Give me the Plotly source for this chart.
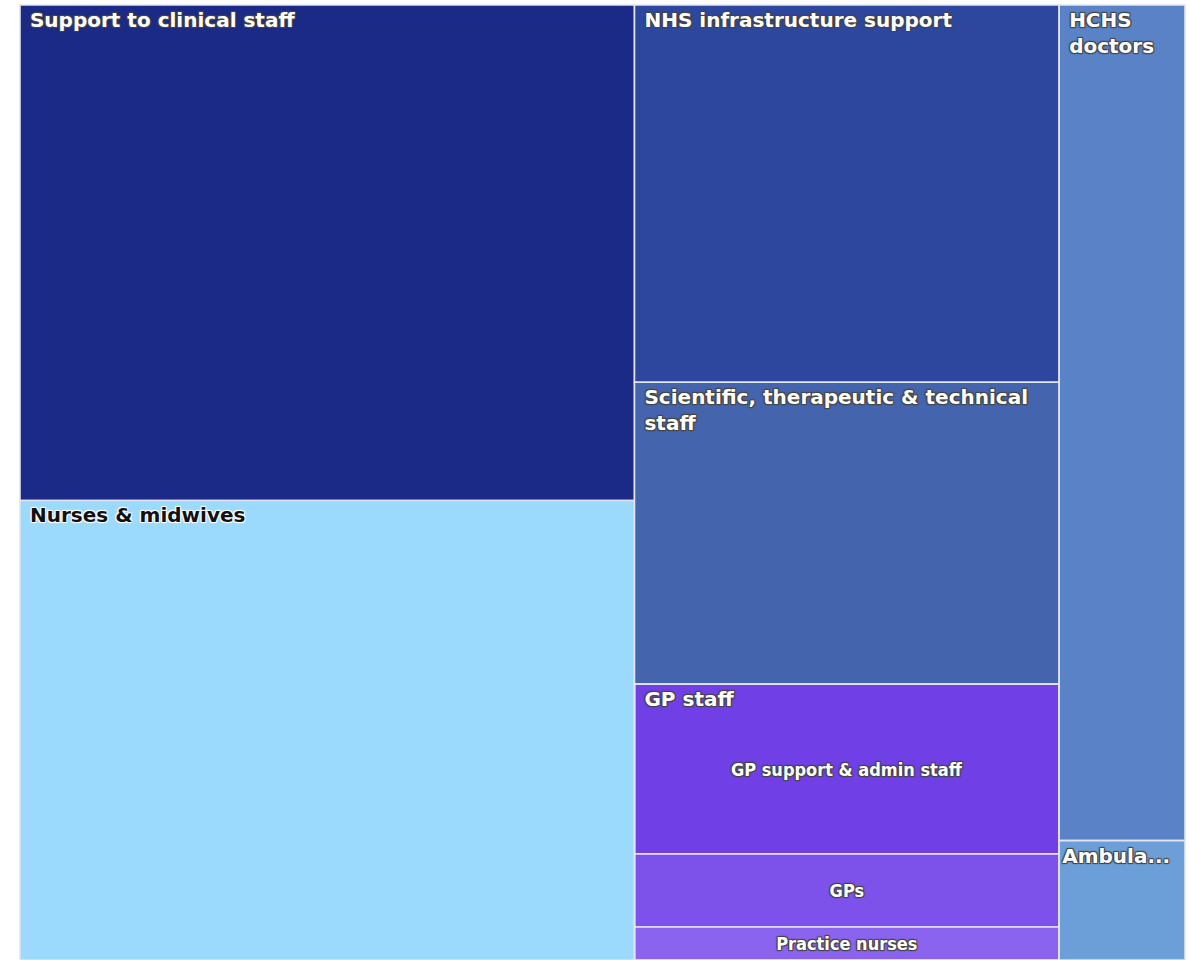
import plotly.graph_objects as go

# ---------------- data (thousands of staff) ----------------
col1_labels = ["Support to clinical staff", "Nurses & midwives"]
col1_text = ["Support to clinical staff", "Nurses & midwives"]
col1_values = [304, 282]

col2_labels = ["NHS infrastructure support", "Scientific, therapeutic & technical staff", "GP staff"]
col2_text = ["NHS infrastructure support", "Scientific, therapeutic & technical<br>staff", "GP staff"]

gp_labels = ["GP support & admin staff", "GPs", "Practice nurses"]
gp_values = [72, 31, 14]

col2_values = [160, 128, sum(gp_values)]

col3_labels = ["HCHS doctors", "Ambulance staff"]
col3_text = ["HCHS<br>doctors", "Ambula..."]
col3_values = [105, 15]

# ---------------- styles ----------------
col1_colors = ["#1b2987", "#9bdafd"]
col2_colors = ["#2e479e", "#4464ad", "rgba(0,0,0,0)"]
gp_colors = ["#703fe6", "#7d52ea", "#8a63ee"]
col3_colors = ["#5a82c6", "#6c9fd8"]

col1_fontcolors = ["#ffffff", "#111111"]
white = "#ffffff"
line_col = "#e4e4f0"
head_font = "DejaVu Sans"
child_font = "DejaVu Sans Condensed"
NBSP = "\u00a0"


def indent(s):
    return "<br>".join(NBSP + part for part in s.split("<br>"))


totals = [sum(col1_values), sum(col2_values), sum(col3_values)]
grand = sum(totals)
x_edges = [0.0]
for t in totals:
    x_edges.append(x_edges[-1] + t / grand)
x_edges[-1] = 1.0

gp_frac = sum(gp_values) / sum(col2_values)


def tm(labels, values, text, colors, fontcolors, x0, x1, y0=0.0, y1=1.0,
       pos="top left", family=head_font, size=20, weight=700):
    return go.Treemap(
        labels=labels,
        parents=[""] * len(labels),
        values=values,
        text=text,
        textinfo="text",
        textposition=pos,
        sort=False,
        domain=dict(x=[x0, x1], y=[y0, y1]),
        marker=dict(colors=colors, line=dict(color=line_col, width=1.6),
                    pad=dict(t=0, l=0, r=0, b=0)),
        tiling=dict(packing="slice", pad=0),
        pathbar=dict(visible=False),
        root=dict(color="rgba(0,0,0,0)"),
        textfont=dict(family=family, size=size, weight=weight,
                      color=fontcolors, shadow="auto"),
        hoverinfo="label+value",
    )


fig = go.Figure()
# GP staff breakdown (drawn first so the GP staff label sits on top)
fig.add_trace(tm(gp_labels, gp_values, gp_labels, gp_colors, [white] * 3,
                 x_edges[1], x_edges[2], 0.0, gp_frac, pos="middle center",
                 family=child_font, size=18))
fig.add_trace(tm(col1_labels, col1_values, [indent(s) for s in col1_text],
                 col1_colors, col1_fontcolors, x_edges[0], x_edges[1]))
fig.add_trace(tm(col2_labels, col2_values, [indent(s) for s in col2_text],
                 col2_colors, [white] * 3, x_edges[1], x_edges[2]))
fig.add_trace(tm(col3_labels, col3_values, [indent(col3_text[0]), col3_text[1]],
                 col3_colors, [white] * 2, x_edges[2], x_edges[3]))

fig.update_layout(
    width=1189,
    height=960,
    margin=dict(l=20, r=4, t=5, b=0),
    paper_bgcolor="white",
    plot_bgcolor="white",
    showlegend=False,
)

fig.write_html(
    "out.html",
    config={"displayModeBar": False},
    post_script="document.body.style.margin='0px';document.body.style.overflow='hidden';",
)
